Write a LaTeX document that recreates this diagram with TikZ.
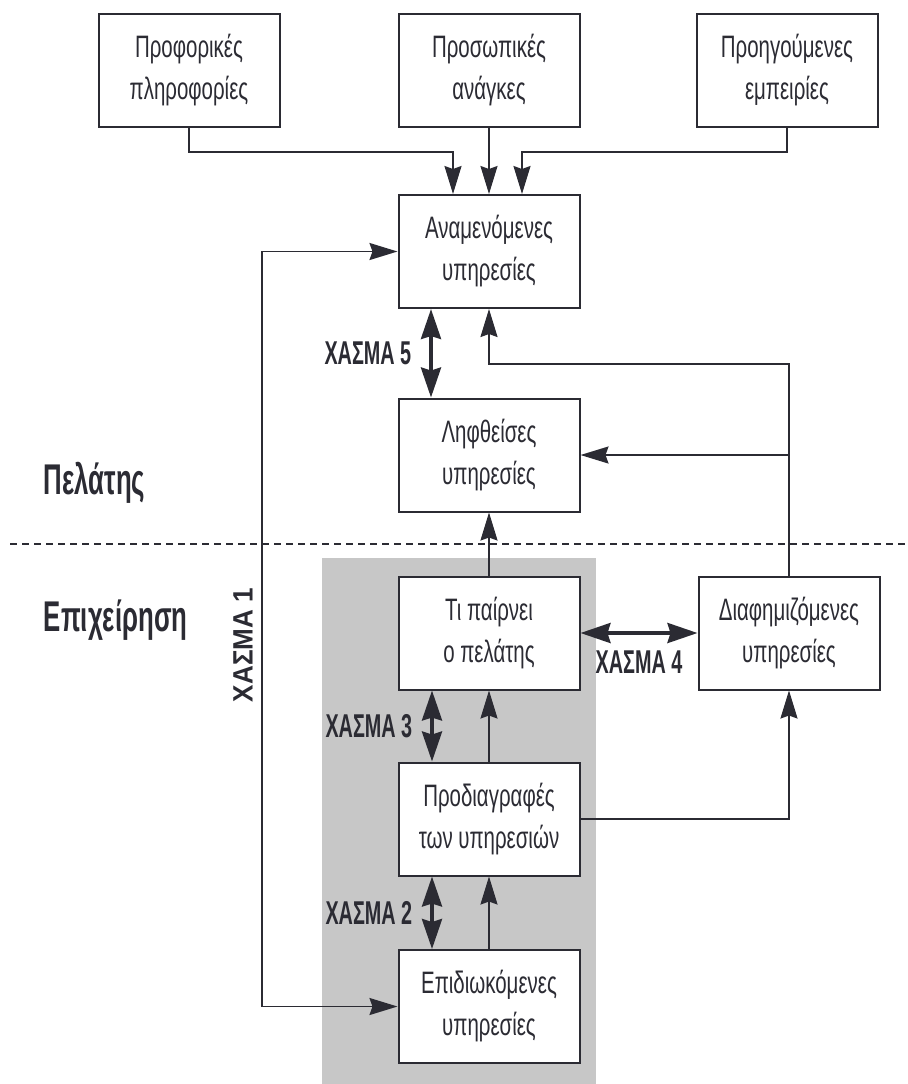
\documentclass[tikz,border=0pt]{standalone}
\usepackage{fontspec}
\setmainfont{Liberation Sans}
\newfontfamily\boxfont[FakeStretch=0.66]{Liberation Sans}
\newfontfamily\gapfont[FakeStretch=0.6]{Liberation Sans}
\newfontfamily\sidefont[FakeStretch=0.93]{Liberation Sans}
\usetikzlibrary{arrows.meta}
\definecolor{inkgray}{HTML}{2B2B33}

\begin{document}
\begin{tikzpicture}[
        x = 0.5pt, y = -0.5pt,
        color = inkgray,
        line width = 0.9pt,
        >={Stealth[length=14pt, width=8.5pt, inset=1.5pt]},
        box/.style = {draw, fill=white, line width=1pt, minimum width=90.5pt, minimum height=56.5pt,
                      inner sep=0pt, align=center, font=\boxfont\fontsize{15.5}{21}\selectfont},
        gapline/.style = {line width=1.8pt, >={Stealth[length=15pt, width=10pt, inset=1.5pt]}},
        gap/.style = {inner sep=0pt, font=\gapfont\bfseries\fontsize{16.5}{18}\selectfont},
        side/.style = {inner sep=0pt, anchor=west, font=\gapfont\bfseries\fontsize{21.5}{24}\selectfont}]
        \useasboundingbox (0,0) rectangle (908,1084);
        % shaded area (company side)
        \fill[black!22] (322,558) rectangle (596,1084);
        % client / company border
        \draw[line width=0.8pt, dash pattern=on 3.5pt off 2.5pt] (10,544) -- (908,544);

        % NODES
        % anchor: expected service
        \node[box] (exp) at (489,251.5) {Αναμενόμενες\\υπηρεσίες};
        % three sources
        \node[box, above of = exp, node distance = 90.75pt] (needs) {Προσωπικές\\ανάγκες};
        \node[box, left of = needs, node distance = 150pt] (oral) {Προφορικές\\πληροφορίες};
        \node[box, right of = needs, node distance = 149pt] (past) {Προηγούμενες\\εμπειρίες};
        % perceived service
        \node[box, below of = exp, node distance = 101.75pt] (perc) {Ληφθείσες\\υπηρεσίες};
        % delivered service
        \node[box, below of = perc, node distance = 89pt] (deliv) {Τι παίρνει\\ο πελάτης};
        % external communication
        \node[box, right of = deliv, node distance = 150pt] (adv) {Διαφημιζόμενες\\υπηρεσίες};
        % specifications
        \node[box, below of = deliv, node distance = 93pt] (spec) {Προδιαγραφές\\των υπηρεσιών};
        % intended service
        \node[box, below of = spec, node distance = 93.75pt] (intend) {Επιδιωκόμενες\\υπηρεσίες};
        % side labels
        \node[side] (client) at (43,483) {Πελάτης};
        \node[side] (firm) at (43,620) {Επιχείρηση};
        \node[inner sep=0pt, rotate=90, font=\sidefont\bfseries\fontsize{14}{16}\selectfont] (gap1) at (243,645) {ΧΑΣΜΑ 1};

        % ARROWS
        \draw[->] (oral.south) |- ([xshift=-18pt, yshift=21pt]exp.north) -- ([xshift=-18pt]exp.north);
        \draw[->] (needs) -- (exp);
        \draw[->] (past.south) |- ([xshift=16.5pt, yshift=21pt]exp.north) -- ([xshift=16.5pt]exp.north);
        \draw[<->, gapline] ([xshift=-29pt]exp.south) -- node[gap, left=9pt] {ΧΑΣΜΑ 5} ([xshift=-29pt]perc.north);
        \draw[->] (adv.north) |- ([yshift=-27.5pt]exp.south) -- (exp.south);
        \draw[->] (adv.north |- perc.east) -- (perc.east);
        \draw[->] (deliv) -- (perc);
        \draw[<->, gapline] (deliv.east) -- node[gap, below=8pt] {ΧΑΣΜΑ 4} (adv.west);
        \draw[<->, gapline] ([xshift=-28.5pt]deliv.south) -- node[gap, left=9pt] {ΧΑΣΜΑ 3} ([xshift=-28.5pt]spec.north);
        \draw[->] (spec) -- (deliv);
        \draw[<->, gapline] ([xshift=-28.5pt]spec.south) -- node[gap, left=9pt] {ΧΑΣΜΑ 2} ([xshift=-28.5pt]intend.north);
        \draw[->] (intend) -- (spec);
        \draw[->] (spec.east) -| (adv.south);
        \draw[<->] (exp.west) -- ++(-67.75pt,0) |- (intend.west);
    \end{tikzpicture}
\end{document}
